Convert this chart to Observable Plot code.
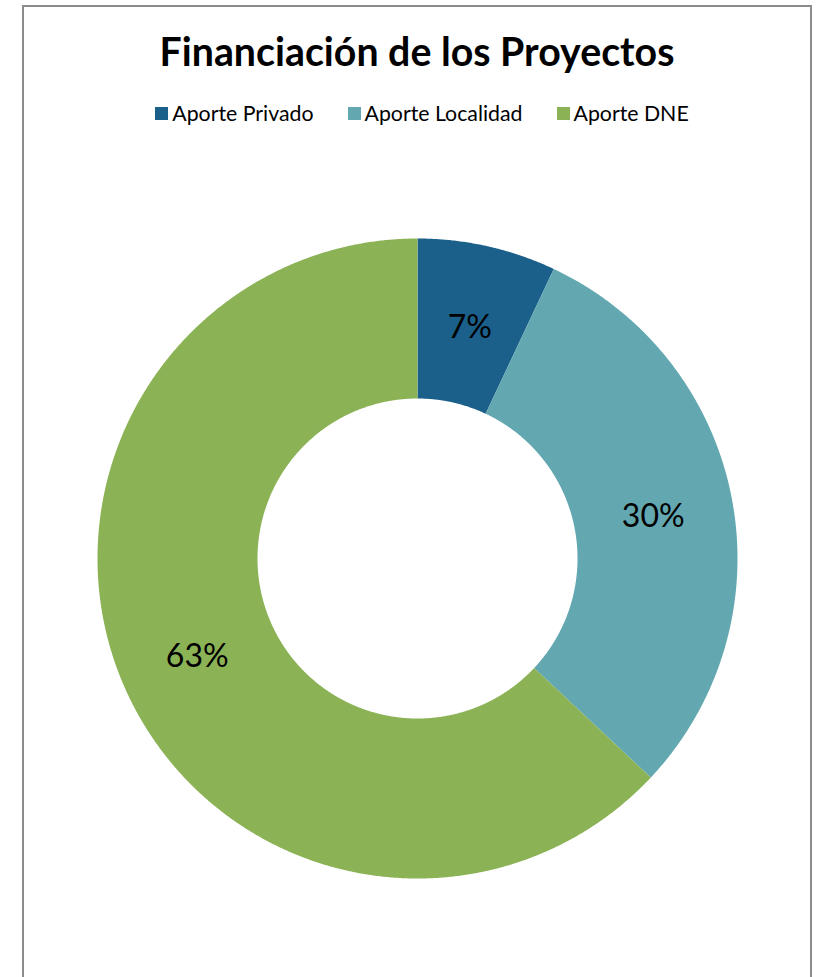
<!DOCTYPE html>
<html>
<head>
<meta charset="utf-8">
<script src="https://cdn.jsdelivr.net/npm/d3@7"></script>
<script src="https://cdn.jsdelivr.net/npm/@observablehq/plot@0.6"></script>
<style>
  html, body { margin: 0; padding: 0; background: #fff; }
  body { width: 821px; height: 977px; overflow: hidden; position: relative; font-family: Lato, "Open Sans", sans-serif; }
  #frame { position: absolute; left: 22px; top: 5px; width: 786px; height: 1000px; border: 2px solid #8c8c8c; background: #fff; }
  #title { position: absolute; left: 0; width: 786px; top: 20px; text-align: center; font-weight: bold; font-size: 39.3px; color: #000; white-space: nowrap; }
  #legend { position: absolute; left: 5px; width: 786px; top: 93px; display: flex; justify-content: center; font-size: 21.3px; color: #000; white-space: nowrap; }
  .item { display: flex; align-items: center; margin: 0 17px; }
  .sw { width: 13px; height: 13px; margin-right: 4px; }
  #chart { position: absolute; left: 0; top: 221px; }
</style>
</head>
<body>
<div id="frame">
  <div id="title"></div>
  <div id="legend"></div>
  <div id="chart"></div>
</div>
<script>
const title = "Financiación de los Proyectos";
const categories = ["Aporte Privado", "Aporte Localidad", "Aporte DNE"];
const values = [7, 30, 63];
const colors = ["#1b5f8b", "#63a8b0", "#8bb356"];
const labels = ["7%", "30%", "63%"];

document.getElementById("title").textContent = title;
const legend = document.getElementById("legend");
categories.forEach((c, i) => {
  const it = document.createElement("div");
  it.className = "item";
  const sw = document.createElement("div");
  sw.className = "sw";
  sw.style.background = colors[i];
  const t = document.createElement("span");
  t.textContent = c;
  it.appendChild(sw); it.appendChild(t);
  legend.appendChild(it);
});

const inner = 0.5, outer = 1, labelR = 0.75;
const arcs = d3.pie().sort(null).value(d => d)(values);
const poly = [];
const lab = [];
arcs.forEach((a, i) => {
  const n = Math.max(8, Math.ceil((a.endAngle - a.startAngle) / 0.005));
  for (let k = 0; k <= n; k++) {
    const t = a.startAngle + (a.endAngle - a.startAngle) * k / n;
    poly.push({name: categories[i], x: outer * Math.sin(t), y: outer * Math.cos(t)});
  }
  for (let k = n; k >= 0; k--) {
    const t = a.startAngle + (a.endAngle - a.startAngle) * k / n;
    poly.push({name: categories[i], x: inner * Math.sin(t), y: inner * Math.cos(t)});
  }
  const m = (a.startAngle + a.endAngle) / 2;
  lab.push({name: categories[i], text: labels[i], x: labelR * Math.sin(m), y: labelR * Math.cos(m)});
});

const chart = Plot.plot({
  width: 786,
  height: 660,
  marginLeft: 73,
  marginRight: 73,
  marginTop: 10,
  marginBottom: 10,
  x: {domain: [-1, 1], axis: null},
  y: {domain: [-1, 1], axis: null},
  color: {domain: categories, range: colors},
  style: {background: "transparent"},
  marks: [
    Plot.line(poly, {x: "x", y: "y", z: "name", fill: "name", stroke: "none", curve: "linear-closed"}),
    Plot.text(lab, {x: "x", y: "y", text: "text", fontSize: 32, dy: 3, fill: "#000", fontFamily: "Lato, sans-serif"})
  ]
});
document.getElementById("chart").appendChild(chart);
</script>
</body>
</html>
